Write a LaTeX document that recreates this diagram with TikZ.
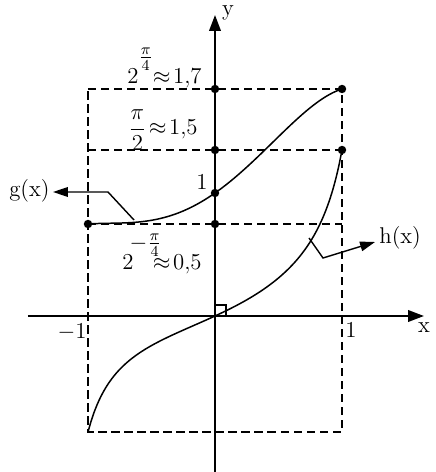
\documentclass[tikz,border=0pt]{standalone}
\usepackage{amsmath,amssymb}
\usepackage{tikz}
\usetikzlibrary{arrows.meta, calc}
\tikzset{
  graphaxis/.style={
    line width=1.2pt, -{Triangle[length=9pt, width=6.5pt]}
  },
  graphdash/.style={
    line width=0.8pt, dash pattern=on 4.8pt off 2.6pt
  },
  graphcurve/.style={
    line width=0.85pt, smooth, samples=81
  },
  graphpointer/.style={
    line width=0.8pt, -{Triangle[length=8.5pt, width=5.5pt]}
  },
  graphdot/.style={
    circle, fill=black, inner sep=0pt, minimum size=4.8pt
  },
  graphlabel/.style={
    font=\large, inner sep=0pt, scale=1.08, transform shape
  },
}

\begin{document}
\begin{tikzpicture}[x=0.02cm, y=0.02cm,
  declare function={
    gfun(\t)=123+89*\t+65.25*\t*\t-21.5*\t*\t*\t-28.75*\t*\t*\t*\t;
    hfun(\t)=(141+25*sin(90*\t))*tan(deg(1.25*\t))/tan(deg(1.25));
  }]
  \useasboundingbox (-215,-156) rectangle (220,316);

  % Corners of the dashed frame
  \coordinate (topleft) at (-127,227);
  \coordinate (midleft) at (-127,166);
  \coordinate (botleft) at (-127,-116);
  \coordinate (botright) at (127,-116);
  \coordinate (lowright) at (127,92);

  % Dashed guides
  \draw[graphdash] (topleft) -- (127,227) -- (botright) -- (botleft) -- cycle;
  \draw[graphdash] (midleft) -- (127,166);
  \draw[graphdash] (-127,92) -- (lowright);

  % Axes
  \coordinate (xstart) at (-187,0);
  \coordinate (xend) at (209,0);
  \coordinate (ystart) at (0,-156);
  \coordinate (yend) at (0,301);
  \draw[graphaxis] (xstart) -- (xend);
  \draw[graphaxis] (ystart) -- (yend);
  \node[graphlabel] (xname) at (209,-12) {x};
  \node[graphlabel, anchor=base] (yname) at (13,300) {y};
  \node[graphlabel] (xmone) at (-143,-16) {$-1$};
  \node[graphlabel] (xone) at (136,-14) {1};

  % Right angle mark at the origin
  \draw[line width=0.7pt] (0,0) rectangle (11,11);

  % g(x)
  \draw[graphcurve] plot[domain=-127:127] (\x, {gfun(\x/127)});

  % h(x)
  \draw[graphcurve] plot[domain=-127:127] (\x, {hfun(\x/127)});

  % Points
  \node[graphdot] (ytop) at (0,227) {};
  \node[graphdot] (ymid) at (0,166) {};
  \node[graphdot] (yone) at (0,123) {};
  \node[graphdot] (ylow) at (0,92) {};
  \node[graphdot] (gright) at (127,227) {};
  \node[graphdot] (hright) at (127,166) {};
  \node[graphdot] (gleft) at (-127,92) {};

  % Values on the y axis
  \node[graphlabel, anchor=base east] (valtop) at (-13,232)
    {$2\raisebox{11pt}{$\frac{\pi}{4}$}\mkern-5mu\approx\!1{,}7$};
  \node[graphlabel, anchor=east] (valmid) at (-17,186)
    {$\dfrac{\pi}{2}\!\approx\!1{,}5$};
  \node[graphlabel, anchor=base east] (valone) at (-7,126) {1};
  \node[graphlabel, anchor=base east] (vallow) at (-13,46)
    {$2\mkern-3mu\raisebox{11pt}{$-\frac{\pi}{4}$}\mkern-12mu\approx\!0{,}5$};

  % Pointers to the curves
  \coordinate (gcorner) at (-107,124);
  \coordinate (gfoot) at (-81,96);
  \coordinate (gtip) at (-162,124);
  \draw[graphpointer] (gfoot) -- (gcorner) -- (gtip);
  \node[graphlabel, anchor=east] (gname) at (-165,125) {g(x)};

  \coordinate (hfoot) at (94,78);
  \coordinate (hcorner) at (108,58);
  \coordinate (htip) at (160,74);
  \draw[graphpointer] (hfoot) -- (hcorner) -- (htip);
  \node[graphlabel, anchor=west] (hname) at (164,78) {h(x)};
\end{tikzpicture}
\end{document}
